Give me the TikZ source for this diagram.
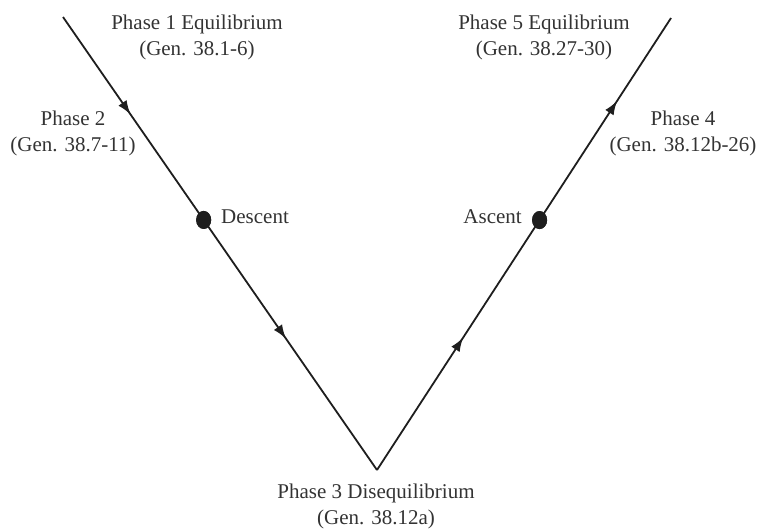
\documentclass[tikz,border=0pt]{standalone}
\usepackage{fontspec}
\setmainfont{Liberation Serif}
\usetikzlibrary{arrows.meta,decorations.markings,shapes.geometric,calc}
\definecolor{ink}{HTML}{1E1E1E}
\definecolor{txt}{HTML}{333333}
\begin{document}
\begin{tikzpicture}[x=1pt,y=-1pt,
  lbl/.style={text=txt,font=\fontsize{21}{26}\selectfont,align=center,inner sep=0pt},
  dotnode/.style={ellipse,fill=ink,minimum width=15pt,minimum height=18pt,inner sep=0pt},
  trail/.style={draw=ink,line width=1.8pt},
  arrowat/.style={postaction={decorate,decoration={markings,mark=at position #1 with {\arrow{Latex[length=14pt,width=10pt]}}}}}
]
\useasboundingbox (0,0) rectangle (759,528);
\coordinate (top1) at (63,17);
\coordinate (apex) at (377,470);
\coordinate (top5) at (671,18);
\node[dotnode] (descent) at ($(top1)!0.448!(apex)$) {};
\node[dotnode] (ascent) at ($(apex)!0.553!(top5)$) {};
\draw[trail,arrowat=0.48] (top1) -- (descent.center);
\draw[trail,arrowat=0.475] (descent.center) -- (apex);
\draw[trail,arrowat=0.53] (apex) -- (ascent.center);
\draw[trail,arrowat=0.59] (ascent.center) -- (top5);
\node[dotnode] at (descent) {};
\node[dotnode] at (ascent) {};
\node[lbl] (p1) at (197,37) {Phase 1 Equilibrium\\(Gen. 38.1-6)};
\node[lbl] (p2) at (73,133) {Phase 2\\(Gen. 38.7-11)};
\node[lbl,anchor=west] (d) at (221,217) {Descent};
\node[lbl,anchor=east] (a) at (522,217) {Ascent};
\node[lbl] (p5) at (544,37) {Phase 5 Equilibrium\\(Gen. 38.27-30)};
\node[lbl] (p4) at (683,133) {Phase 4\\(Gen. 38.12b-26)};
\node[lbl] (p3) at (376,506) {Phase 3 Disequilibrium\\(Gen. 38.12a)};
\end{tikzpicture}
\end{document}
